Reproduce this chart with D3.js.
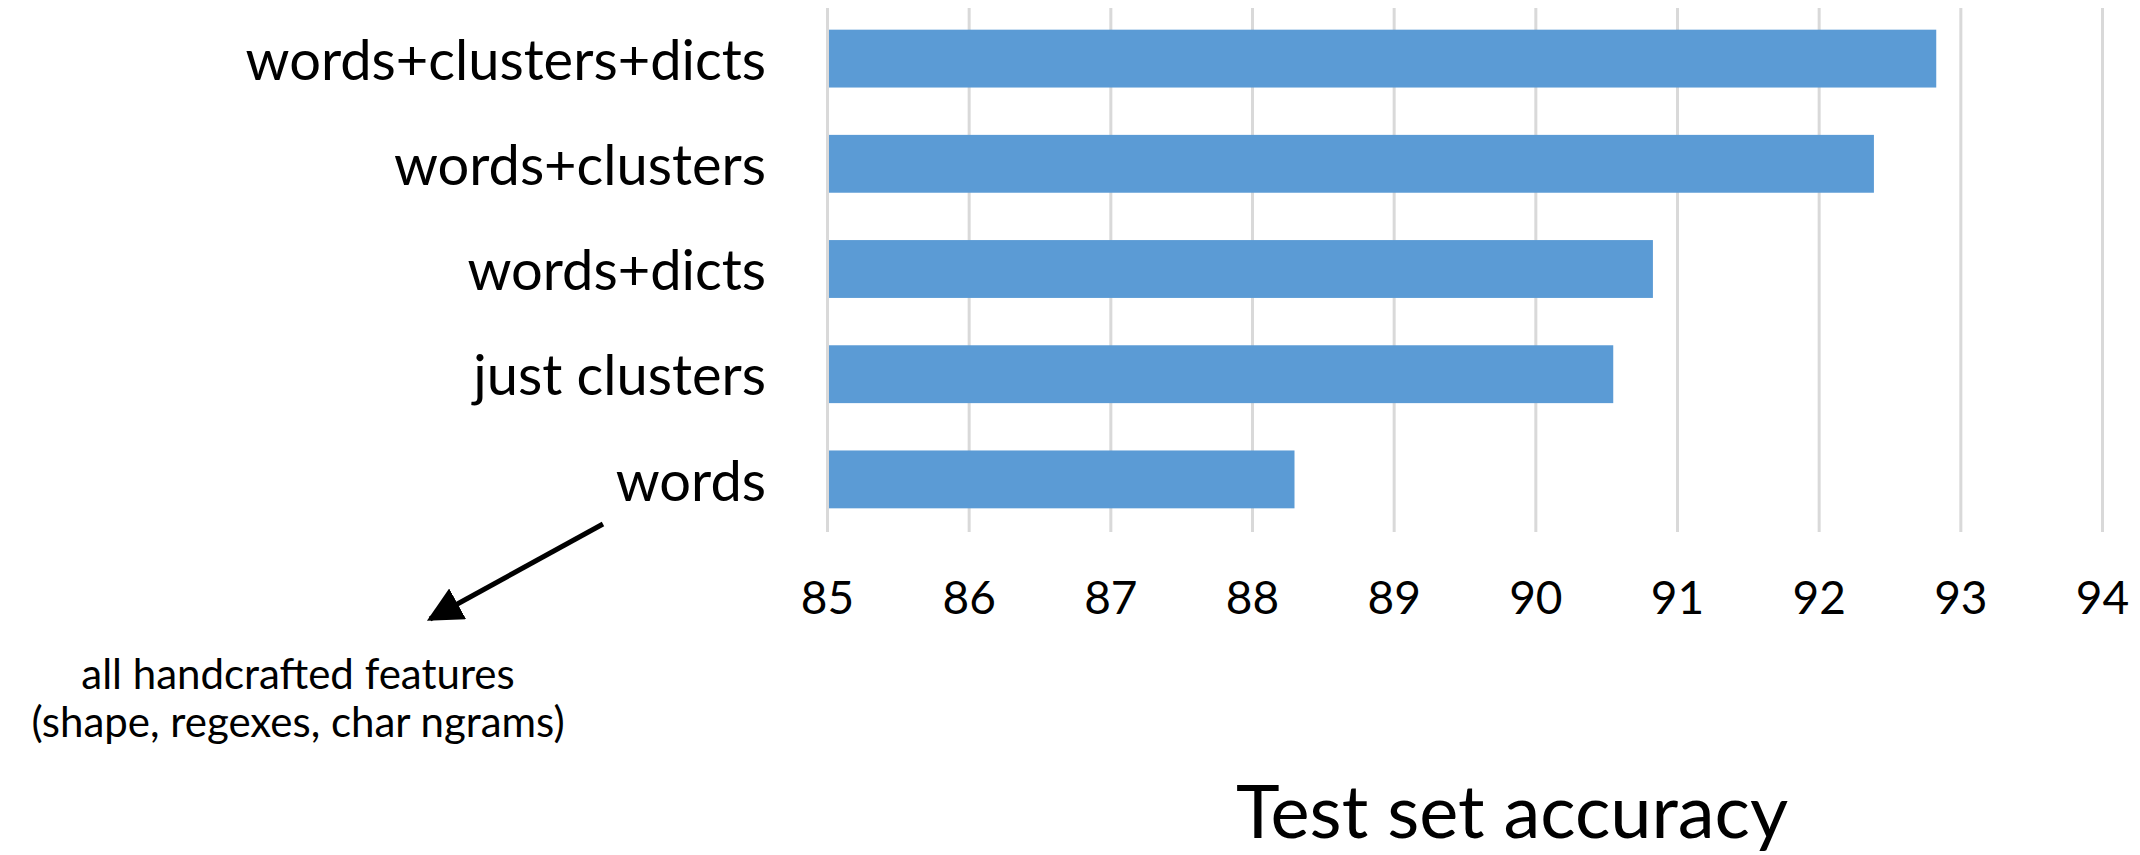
<!DOCTYPE html>
<html>
<head>
<meta charset="utf-8">
<script src="https://cdn.jsdelivr.net/npm/d3@7"></script>
<style>
  body { margin: 0; background: #fff; }
</style>
</head>
<body>
<div id="chart"></div>
<script>
const categories = ["words+clusters+dicts", "words+clusters", "words+dicts", "just clusters", "words"];
const accuracy = [92.83, 92.39, 90.83, 90.55, 88.30];
const ticks = [85, 86, 87, 88, 89, 90, 91, 92, 93, 94];
const note = ["all handcrafted features", "(shape, regexes, char ngrams)"];
const axisTitle = "Test set accuracy";

const width = 2140, height = 855;
const margin = { top: 6, left: 827, right: 38, bottom: 323 };
const font = "Lato, 'Open Sans', sans-serif";

const data = categories.map((label, i) => ({ label, value: accuracy[i] }));

const svg = d3.select("#chart")
    .append("svg")
    .attr("width", width)
    .attr("height", height);

let x = d3.scaleLinear()
    .domain([85, 94])
    .range([margin.left, width - margin.right]);

let y = d3.scaleBand()
    .domain(categories)
    .range([margin.top, height - margin.bottom])
    .paddingInner(0.45)
    .paddingOuter(0.225);

// gridlines + tick labels
svg.append("g")
    .attr("transform", `translate(0,${height - margin.bottom})`)
    .call(d3.axisBottom(x).tickValues(ticks).tickFormat(d3.format("d"))
        .tickSizeInner(-(height - margin.bottom - 8)).tickSizeOuter(0).tickPadding(49))
    .call(g => g.select(".domain").remove())
    .call(g => g.selectAll(".tick line").attr("stroke", "#d9d9d9").attr("stroke-width", 3))
    .call(g => g.selectAll(".tick text").attr("fill", "#000")
        .attr("font-family", font).attr("font-size", 46));

svg.append("g")
    .attr("fill", "#5b9bd5")
    .selectAll("rect")
    .data(data)
    .join("rect")
    .attr("x", x(85) + 2)
    .attr("y", d => y(d.label))
    .attr("width", d => x(d.value) - x(85) - 2)
    .attr("height", y.bandwidth());

svg.append("g")
    .attr("transform", `translate(${margin.left},0)`)
    .call(d3.axisLeft(y).tickSize(0).tickPadding(61))
    .call(g => g.select(".domain").remove())
    .call(g => g.selectAll(".tick text").attr("fill", "#000")
        .attr("font-family", font).attr("font-size", 56).attr("dy", "0.38em"));

// annotation arrow
svg.append("defs").append("marker")
    .attr("id", "head")
    .attr("viewBox", "0 0 10 10")
    .attr("refX", 9).attr("refY", 5)
    .attr("markerWidth", 7).attr("markerHeight", 7)
    .attr("markerUnits", "strokeWidth")
    .attr("orient", "auto")
    .append("path")
    .attr("d", "M0,0 L10,5 L0,10 Z")
    .attr("fill", "#000");

svg.append("line")
    .attr("x1", 603).attr("y1", 524)
    .attr("x2", 430).attr("y2", 619)
    .attr("stroke", "#000")
    .attr("stroke-width", 5)
    .attr("marker-end", "url(#head)");

svg.append("g")
    .attr("font-family", font)
    .attr("font-size", 42)
    .attr("text-anchor", "middle")
    .selectAll("text")
    .data(note)
    .join("text")
    .attr("x", 298)
    .attr("y", (d, i) => 689 + i * 48)
    .text(d => d);

svg.append("text")
    .attr("x", 1512)
    .attr("y", 838)
    .attr("text-anchor", "middle")
    .attr("font-family", font)
    .attr("font-size", 74)
    .text(axisTitle);
</script>
</body>
</html>
